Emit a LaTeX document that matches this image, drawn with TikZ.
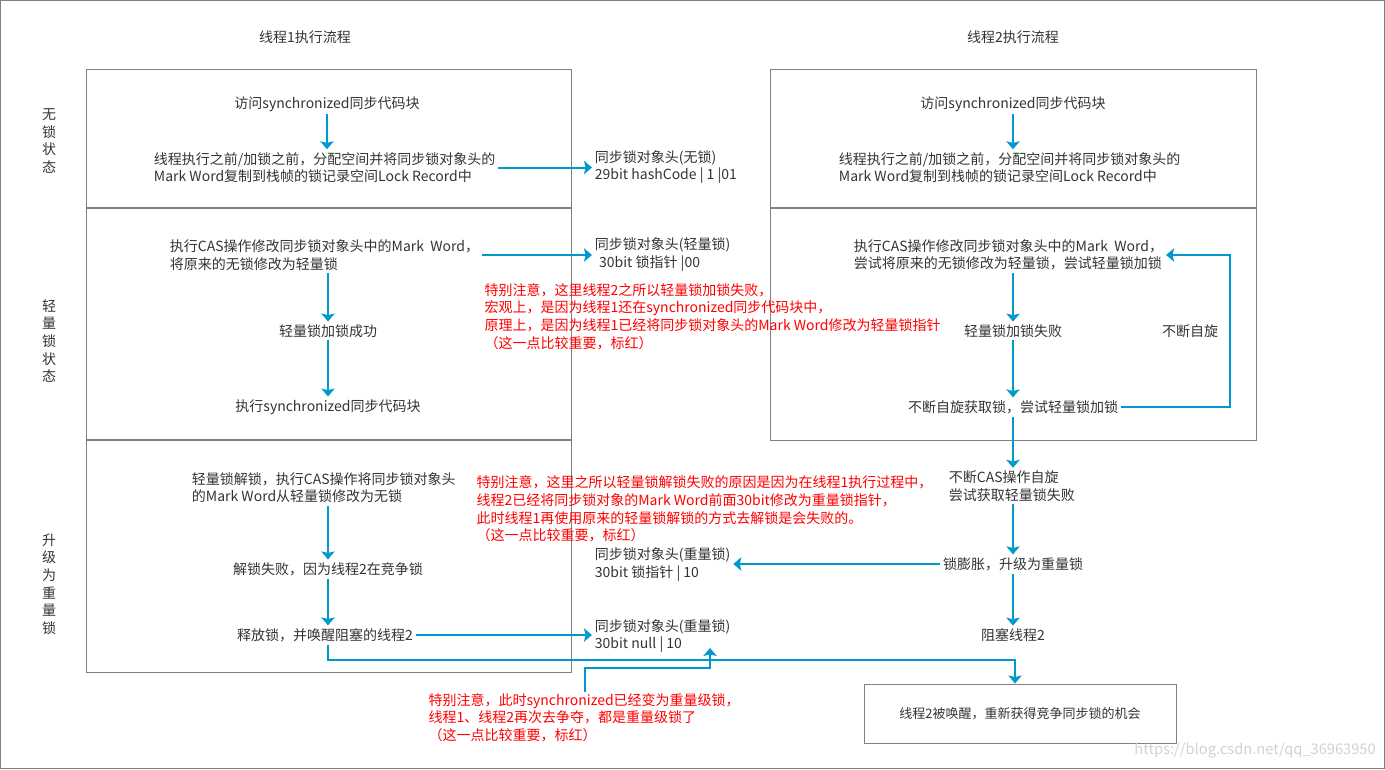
\documentclass[tikz,border=0pt]{standalone}
\usepackage{fontspec}
\setmainfont{Noto Sans CJK SC}
\usepackage{tikz}
\usetikzlibrary{arrows.meta}
\definecolor{flowblue}{RGB}{0,153,204}
\definecolor{notered}{RGB}{255,0,0}
\definecolor{framegray}{RGB}{128,128,128}
\definecolor{txtgray}{RGB}{51,51,51}
\newcommand{\fs}{\fontsize{10.5}{13.2}\selectfont}

\begin{document}
\begin{tikzpicture}[x=0.75pt,y=-0.75pt,>={Stealth[length=6pt,width=10pt,inset=1.2pt]},
    txt/.style={font=\fs,text=txtgray,inner sep=2pt},
    two line/.style={txt,align=left,anchor=west},
    note/.style={font=\fs,text=notered,align=left,anchor=west,inner sep=1pt},
    lane/.style={draw=framegray,line width=0.75pt},
    flow/.style={->,draw=flowblue,line width=1.5pt}]

\useasboundingbox (0,0) rectangle (1385,769);
\draw[lane] (0.5,0.5) rectangle (1384.5,768.5);

% lanes
\draw[lane] (86,69) rectangle (571,207.5);
\draw[lane] (86,208.5) rectangle (571,439.5);
\draw[lane] (86,440.5) rectangle (571,672);
\draw[lane] (770,69) rectangle (1256,207.5);
\draw[lane] (770,208.5) rectangle (1256,440);

\node[txt] (t1) at (305,37) {线程1执行流程};
\node[txt] (t2) at (1013,37) {线程2执行流程};

\node[txt,align=center] (s1) at (49,141) {无\\锁\\状\\态};
\node[txt,align=center] (s2) at (49,341) {轻\\量\\锁\\状\\态};
\node[txt,align=center] (s3) at (49,584) {升\\级\\为\\重\\量\\锁};

\node[txt] (l1) at (327,104) {访问synchronized同步代码块};
\node[two line] (l2) at (151,167.5) {线程执行之前/加锁之前，分配空间并将同步锁对象头的\\Mark Word复制到栈帧的锁记录空间Lock Record中};
\node[two line] (l3) at (167,255) {执行CAS操作修改同步锁对象头中的Mark\ \ Word，\\将原来的无锁修改为轻量锁};
\node[txt] (l4) at (328,331) {轻量锁加锁成功};
\node[txt] (l5) at (328,407) {执行synchronized同步代码块};
\node[two line] (l6) at (189,487.5) {轻量锁解锁，执行CAS操作将同步锁对象头\\的Mark Word从轻量锁修改为无锁};
\node[txt] (l7) at (328,569) {解锁失败，因为线程2在竞争锁};
\node[txt] (l8) at (325,635) {释放锁，并唤醒阻塞的线程2};

\node[txt] (r1) at (1013,104) {访问synchronized同步代码块};
\node[two line] (r2) at (836,167.5) {线程执行之前/加锁之前，分配空间并将同步锁对象头的\\Mark Word复制到栈帧的锁记录空间Lock Record中};
\node[two line] (r3) at (851,255) {执行CAS操作修改同步锁对象头中的Mark\ \ Word，\\尝试将原来的无锁修改为轻量锁，尝试轻量锁加锁};
\node[txt] (r4) at (1013,331) {轻量锁加锁失败};
\node[txt] (r5) at (1013,407) {不断自旋获取锁，尝试轻量锁加锁};
\node[txt] (spin) at (1190,331) {不断自旋};
\node[two line] (r6) at (946,486) {不断CAS操作自旋\\尝试获取轻量锁失败};
\node[txt] (r7) at (1013,564) {锁膨胀，升级为重量锁};
\node[txt] (r8) at (1013,635) {阻塞线程2};

\node[two line] (h1) at (592,167) {同步锁对象头(无锁)\\29bit hashCode | 1 |01};
\node[two line] (h2) at (592,254.5) {同步锁对象头(轻量锁)\\\hspace{0.3em}30bit 锁指针 |00};
\node[two line] (h3) at (592,564.5) {同步锁对象头(重量锁)\\30bit 锁指针 | 10};
\node[two line] (h4) at (592,636) {同步锁对象头(重量锁)\\30bit null | 10};

\node[lane,txt,font=\fontsize{9.75}{12}\selectfont,minimum width=234pt,minimum height=44.25pt] (wake) at (1020,713.5) {线程2被唤醒，重新获得竞争同步锁的机会};

\node[note] (n1) at (483,316.5) {特别注意，这里线程2之所以轻量锁加锁失败，\\宏观上，是因为线程1还在synchronized同步代码块中，\\原理上，是因为线程1已经将同步锁对象头的Mark Word修改为轻量锁指针\\（这一点比较重要，标红）};
\node[note] (n2) at (475,509) {特别注意，这里之所以轻量锁解锁失败的原因是因为在线程1执行过程中，\\线程2已经将同步锁对象的Mark Word前面30bit修改为重量锁指针，\\此时线程1再使用原来的轻量锁解锁的方式去解锁是会失败的。\\（这一点比较重要，标红）};
\node[note] (n3) at (427,717.5) {特别注意，此时synchronized已经变为重量级锁，\\线程1、线程2再次去争夺，都是重量级锁了\\（这一点比较重要，标红）};

\node[text=black!18,font=\fontsize{11}{13}\selectfont,anchor=east,inner sep=0pt] (mark) at (1376,750) {https://blog.csdn.net/qq\_36963950};

\coordinate (turn) at (1230,331);
\coordinate (bus) at (1015,660);
\coordinate (bend) at (585,668);
\coordinate (tip) at (710,648);

\draw[flow] (l1.south) -- (l1.south |- l2.north);
\draw[flow] (l2.east) -- (l2.east -| h1.west);
\draw[flow] (l3.east) -- (l3.east -| h2.west);
\draw[flow] (l4.north |- l3.south) -- (l4.north);
\draw[flow] (l4.south) -- (l5.north);
\draw[flow] (l7.north |- l6.south) -- (l7.north);
\draw[flow] (l7.south) -- (l7.south |- l8.north);
\draw[flow] (l8.east) -- (l8.east -| h4.west);
\draw[flow] (l8.south -| l7.south) |- (bus) -- (bus |- wake.north);

\draw[flow] (r1.south) -- (r1.south |- r2.north);
\draw[flow] (r3.south -| r4.north) -- (r4.north);
\draw[flow] (r4.south) -- (r5.north);
\draw[flow] (r5.east) -| (turn) |- (r3.east);
\draw[flow] (r5.south) -- (r5.south |- r6.north);
\draw[flow] (r6.south -| r7.north) -- (r7.north);
\draw[flow] (r7.west) -- (r7.west -| h3.east);
\draw[flow] (r7.south) -- (r8.north);

\draw[flow] (n3.north -| bend) -- (bend) -| (tip);
\end{tikzpicture}
\end{document}
